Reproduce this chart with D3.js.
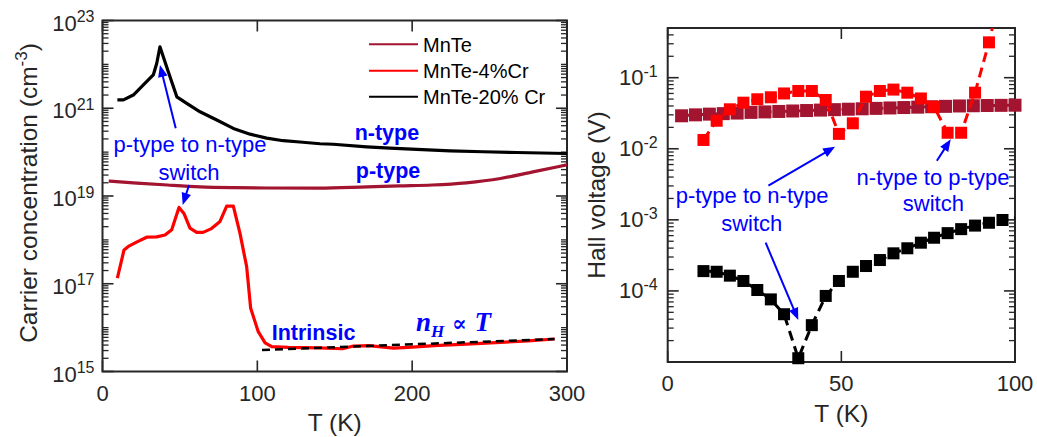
<!DOCTYPE html>
<html><head><meta charset="utf-8">
<script src="https://cdn.jsdelivr.net/npm/d3@7"></script>
<style>html,body{margin:0;padding:0;background:#fff;} svg{display:block;}</style>
</head><body>
<svg id="chart" width="1037" height="437"></svg>
<script>
// ---------- DATA ----------
const seriesNames = ["MnTe", "MnTe-4%Cr", "MnTe-20% Cr"];
const seriesColors = ["#a2142f", "#ff0000", "#000000"];

// Left panel: carrier concentration (cm^-3) vs T (K)
const carrierT_MnTe = [4, 20, 42, 63, 85, 106, 140, 171, 192, 213, 235, 257, 278, 300];
const carrierN_MnTe = [2.19e19, 2.0e19, 1.78e19, 1.62e19, 1.55e19, 1.52e19, 1.51e19, 1.62e19, 1.70e19, 1.78e19, 2.0e19, 2.51e19, 3.55e19, 5.13e19];

const carrierT_Cr4 = [9.6, 13.9, 16.7, 22, 28.5, 35, 40.4, 44.7, 49.4, 52.6, 56.5, 60.8, 65, 70, 75.9, 80.2, 84.5, 88.8, 93.1, 95.7, 100.6, 105, 109.3, 120, 140, 155, 162, 172, 188, 200, 214, 235, 257, 275, 292];
const carrierN_Cr4 = [1.35e17, 5.9e17, 7.1e17, 8.9e17, 1.15e18, 1.17e18, 1.29e18, 1.7e18, 5.5e18, 4.0e18, 1.86e18, 1.48e18, 1.48e18, 1.78e18, 2.63e18, 5.9e18, 5.9e18, 1.41e18, 2.45e17, 2.75e16, 8.1e15, 4.5e15, 3.7e15, 3.55e15, 3.47e15, 3.3e15, 3.8e15, 3.9e15, 3.4e15, 3.6e15, 3.9e15, 4.2e15, 4.6e15, 5.0e15, 5.5e15];

const carrierT_Cr20 = [9.6, 13.5, 19.9, 26.4, 32.8, 35, 37.1, 42.5, 48, 54.4, 63, 73.8, 84.5, 95.3, 106, 116.8, 127.5, 140.5, 149, 170.6, 185.7, 203, 224.5, 246, 267.5, 300];
const carrierN_Cr20 = [1.55e21, 1.55e21, 2.0e21, 3.39e21, 5.75e21, 1.05e22, 2.51e22, 6.76e21, 1.82e21, 1.29e21, 8.3e20, 5.4e20, 3.47e20, 2.57e20, 2.09e20, 1.82e20, 1.70e20, 1.55e20, 1.51e20, 1.32e20, 1.23e20, 1.15e20, 1.07e20, 1.02e20, 9.8e19, 9.3e19];

const fitT = [103, 292];
const fitN = [3.1e15, 5.5e15];

const leftXTicks = [0, 100, 200, 300];
const leftYExponents = [15, 17, 19, 21, 23];

// Right panel: Hall voltage (V) vs T (K)
const hallT_MnTe = [4, 8, 12, 16, 20, 24, 28, 32, 36, 40, 44, 48, 52, 56, 60, 64, 68, 72, 76, 80, 84, 88, 92, 96, 100];
const hallV_MnTe = [0.0291, 0.0300, 0.0307, 0.0312, 0.0318, 0.0325, 0.0330, 0.0335, 0.0340, 0.0345, 0.0350, 0.0355, 0.0360, 0.0365, 0.0370, 0.0375, 0.0380, 0.0385, 0.0390, 0.0395, 0.0400, 0.0403, 0.0406, 0.0408, 0.0410];

const hallT_Cr4 = [10.3, 14.1, 17.9, 21.8, 25.8, 29.7, 33.5, 37.6, 41.5, 45.5, 49.3, 53.3, 57.1, 61.1, 65, 69, 72.9, 76.7, 80.6, 84.5, 88.5, 92.5, 96.4];
const hallV_Cr4 = [0.0133, 0.0248, 0.0359, 0.0445, 0.0497, 0.053, 0.060, 0.065, 0.065, 0.0485, 0.0162, 0.0228, 0.054, 0.065, 0.068, 0.0615, 0.051, 0.039, 0.0168, 0.0168, 0.0615, 0.314, 2.0];

const hallT_Cr20 = [10.3, 14.1, 17.9, 21.8, 25.8, 29.7, 33.5, 37.6, 41.5, 45.5, 49.3, 53.3, 57.1, 61.1, 65, 69, 72.9, 76.7, 80.6, 84.5, 88.5, 92.5, 96.4, 100.4];
const hallV_Cr20 = [1.9e-4, 1.86e-4, 1.64e-4, 1.38e-4, 1.03e-4, 7.6e-5, 4.7e-5, 1.13e-5, 3.3e-5, 8.5e-5, 1.38e-4, 1.86e-4, 2.24e-4, 2.72e-4, 3.38e-4, 3.98e-4, 4.77e-4, 5.6e-4, 6.5e-4, 7.4e-4, 8.3e-4, 9.1e-4, 9.95e-4, 1.07e-3];

const rightXTicks = [0, 50, 100];
const rightYExponents = [-4, -3, -2, -1];

// ---------- DRAWING ----------
const SANS = "'Liberation Sans', Arial, sans-serif";
const AX = "#262626";
const BLUE = "#0000ff";
const svg = d3.select("#chart");
svg.append("rect").attr("width", 1037).attr("height", 437).attr("fill", "#fff");

const xL = d3.scaleLinear().domain([0, 300]).range([102.5, 567]);
const yL = d3.scaleLog().domain([1e15, 1e23]).range([371.5, 20.5]);
const xR = d3.scaleLinear().domain([0, 100]).range([667.7, 1015]);
const yR = d3.scaleLog().domain([1e-5, 0.5]).range([362, 28]);

const defs = svg.append("defs");
function clip(id, x, y) {
  const [x0, x1] = x.range(); const [y0, y1] = y.range();
  defs.append("clipPath").attr("id", id).append("rect")
    .attr("x", x0).attr("y", y1).attr("width", x1 - x0).attr("height", y0 - y1);
}
clip("clipL", xL, yL); clip("clipR", xR, yR);

function frameAndTicks(x, y, majorExps, xTicks, labelGap, labelDy) {
  const g = svg.append("g");
  const [x0, x1] = x.range(); const [y0, y1] = y.range();
  const [d0, d1] = y.domain();
  const major = majorExps.map(e => Math.pow(10, e));
  const minor = [];
  for (let e = Math.floor(Math.log10(d0)); e <= Math.ceil(Math.log10(d1)); e++) {
    for (let m = 1; m <= 9; m++) {
      const v = m * Math.pow(10, e);
      if (v < d0 * 0.9999 || v > d1 * 1.0001) continue;
      if (m === 1 && majorExps.includes(e)) continue;
      minor.push(v);
    }
  }
  minor.forEach(v => {
    const yy = y(v);
    g.append("line").attr("x1", x0).attr("x2", x0 + 6).attr("y1", yy).attr("y2", yy).attr("stroke", AX).attr("stroke-width", 1.3);
    g.append("line").attr("x1", x1).attr("x2", x1 - 6).attr("y1", yy).attr("y2", yy).attr("stroke", AX).attr("stroke-width", 1.3);
  });
  major.forEach(v => {
    const yy = y(v);
    g.append("line").attr("x1", x0).attr("x2", x0 + 11).attr("y1", yy).attr("y2", yy).attr("stroke", AX).attr("stroke-width", 1.6);
    g.append("line").attr("x1", x1).attr("x2", x1 - 11).attr("y1", yy).attr("y2", yy).attr("stroke", AX).attr("stroke-width", 1.6);
  });
  xTicks.forEach(t => {
    const xx = x(t);
    g.append("line").attr("x1", xx).attr("x2", xx).attr("y1", y0).attr("y2", y0 - 11).attr("stroke", AX).attr("stroke-width", 1.6);
    g.append("line").attr("x1", xx).attr("x2", xx).attr("y1", y1).attr("y2", y1 + 11).attr("stroke", AX).attr("stroke-width", 1.6);
    g.append("text").attr("x", xx).attr("y", y0 + 29).attr("text-anchor", "middle")
      .attr("font-family", SANS).attr("font-size", 22).attr("fill", AX).text(t);
  });
  g.append("rect").attr("x", x0).attr("y", y1).attr("width", x1 - x0).attr("height", y0 - y1)
    .attr("fill", "none").attr("stroke", AX).attr("stroke-width", 2);
  majorExps.forEach(e => {
    const t = g.append("text").attr("x", x0 - labelGap).attr("y", y(Math.pow(10, e)) + labelDy)
      .attr("text-anchor", "end").attr("font-family", SANS).attr("fill", AX);
    t.append("tspan").attr("font-size", 22).text("10");
    t.append("tspan").attr("font-size", 16).attr("dy", -8.5).text(String(e));
  });
}

// ---- left panel ----
frameAndTicks(xL, yL, leftYExponents, leftXTicks, 8, 10);
const lineL = d3.line().x(d => xL(d[0])).y(d => yL(d[1]));
const gL = svg.append("g").attr("clip-path", "url(#clipL)");
const zip = (a, b) => a.map((v, i) => [v, b[i]]);
gL.append("path").datum(zip(carrierT_Cr4, carrierN_Cr4)).attr("d", lineL)
  .attr("fill", "none").attr("stroke", seriesColors[1]).attr("stroke-width", 3.2).attr("stroke-linejoin", "round");
gL.append("path").datum(zip(fitT, fitN)).attr("d", lineL)
  .attr("fill", "none").attr("stroke", "#000").attr("stroke-width", 2.5).attr("stroke-dasharray", "8,5");
gL.append("path").datum(zip(carrierT_Cr20, carrierN_Cr20)).attr("d", lineL)
  .attr("fill", "none").attr("stroke", seriesColors[2]).attr("stroke-width", 3.2).attr("stroke-linejoin", "round");
gL.append("path").datum(zip(carrierT_MnTe, carrierN_MnTe)).attr("d", d3.line().curve(d3.curveMonotoneX).x(d => xL(d[0])).y(d => yL(d[1])))
  .attr("fill", "none").attr("stroke", seriesColors[0]).attr("stroke-width", 3.2);

// legend
const legY = [44.3, 70.7, 96.7];
seriesNames.forEach((n, i) => {
  svg.append("line").attr("x1", 369).attr("x2", 418).attr("y1", legY[i]).attr("y2", legY[i])
    .attr("stroke", seriesColors[i]).attr("stroke-width", 2);
  svg.append("text").attr("x", 423).attr("y", legY[i] + 7.3).attr("font-family", SANS)
    .attr("font-size", 20).attr("fill", "#000").text(n);
});

// axis labels
svg.append("text").attr("x", xL(150)).attr("y", 431).attr("text-anchor", "middle")
  .attr("font-family", SANS).attr("font-size", 24.5).attr("fill", AX).text("T (K)");
{
  const t = svg.append("text").attr("transform", "translate(37,193) rotate(-90)").attr("text-anchor", "middle")
    .attr("font-family", SANS).attr("font-size", 24.5).attr("fill", AX);
  t.append("tspan").text("Carrier concentration (cm");
  t.append("tspan").attr("font-size", 17).attr("dy", -10).text("-3");
  t.append("tspan").attr("dy", 10).text(")");
}
svg.append("text").attr("x", xR(50)).attr("y", 421.7).attr("text-anchor", "middle")
  .attr("font-family", SANS).attr("font-size", 24.5).attr("fill", AX).text("T (K)");
svg.append("text").attr("transform", "translate(605,195) rotate(-90)").attr("text-anchor", "middle")
  .attr("font-family", SANS).attr("font-size", 24.5).attr("fill", AX).text("Hall voltage (V)");

// annotations helper
function arrow(x1, y1, x2, y2) {
  const dx = x2 - x1, dy = y2 - y1, L = Math.hypot(dx, dy);
  const ux = dx / L, uy = dy / L, hl = 12, hw = 4.8;
  svg.append("line").attr("x1", x1).attr("y1", y1).attr("x2", x2 - ux * hl * 0.8).attr("y2", y2 - uy * hl * 0.8)
    .attr("stroke", BLUE).attr("stroke-width", 2);
  const bx = x2 - ux * hl, by = y2 - uy * hl;
  svg.append("polygon").attr("points", [[x2, y2], [bx - uy * hw, by + ux * hw], [bx + uy * hw, by - ux * hw]].map(p => p.join(",")).join(" "))
    .attr("fill", BLUE);
}
function label(x, y, txt, opts = {}) {
  return svg.append("text").attr("x", x).attr("y", y).attr("text-anchor", opts.anchor || "middle")
    .attr("font-family", SANS).attr("font-size", opts.size || 22).attr("font-weight", opts.bold ? "bold" : "normal")
    .attr("fill", BLUE).text(txt);
}
// left annotations (positioned in data units)
label(xL(183.7), yL(Math.pow(10, 20.276)), "n-type", { bold: true, size: 21.5 });
label(xL(184.4), yL(Math.pow(10, 19.41)), "p-type", { bold: true, size: 21.5 });
label(xL(56.5), yL(Math.pow(10, 20.0)), "p-type to n-type");
label(xL(55.9), yL(Math.pow(10, 19.36)), "switch");
label(xL(109.3), yL(Math.pow(10, 15.72)), "Intrinsic", { bold: true, size: 21.5, anchor: "start" });
{
  const t = svg.append("text").attr("x", xL(202.5)).attr("y", yL(Math.pow(10, 15.92)))
    .attr("font-family", "'Liberation Serif', 'DejaVu Serif', serif").attr("font-weight", "bold")
    .attr("font-size", 27).attr("fill", BLUE);
  t.append("tspan").attr("font-style", "italic").text("n");
  t.append("tspan").attr("font-style", "italic").attr("font-size", 17).attr("dy", 6).text("H");
  t.append("tspan").attr("dy", -6).attr("font-family", "'DejaVu Serif', serif").attr("font-size", 22).text(" \u221D ");
  t.append("tspan").attr("font-style", "italic").text("T");
}
arrow(xL(47.3), yL(Math.pow(10, 20.543)), xL(37.1), yL(Math.pow(10, 21.986)));
arrow(xL(55.9), yL(Math.pow(10, 19.25)), xL(51.8), yL(Math.pow(10, 18.795)));

// ---- right panel ----
frameAndTicks(xR, yR, rightYExponents, rightXTicks, 10, 7.5);
const lineR = d3.line().x(d => xR(d[0])).y(d => yR(d[1]));
const gR = svg.append("g");
function hallSeries(T, V, color, size) {
  const data = zip(T, V);
  gR.append("path").datum(data).attr("d", lineR).attr("clip-path", "url(#clipR)")
    .attr("fill", "none").attr("stroke", color).attr("stroke-width", 3).attr("stroke-dasharray", "10,6");
  gR.selectAll(null).data(data.filter(d => d[0] <= 100 && d[1] <= 0.5)).enter().append("rect")
    .attr("x", d => xR(d[0]) - size / 2).attr("y", d => yR(d[1]) - size / 2)
    .attr("width", size).attr("height", size).attr("fill", color);
}
hallSeries(hallT_MnTe, hallV_MnTe, seriesColors[0], 13);
hallSeries(hallT_Cr4, hallV_Cr4, seriesColors[1], 12);
hallSeries(hallT_Cr20, hallV_Cr20, seriesColors[2], 12);

label(xR(24.3), yR(Math.pow(10, -2.767)), "p-type to n-type");
label(xR(24.2), yR(Math.pow(10, -3.153)), "switch");
label(xR(76.4), yR(Math.pow(10, -2.51)), "n-type to p-type");
label(xR(76.5), yR(Math.pow(10, -2.876)), "switch");
arrow(xR(29.0), yR(Math.pow(10, -2.52)), xR(48.2), yR(Math.pow(10, -1.971)));
arrow(xR(28.2), yR(Math.pow(10, -3.322)), xR(37.6), yR(Math.pow(10, -4.409)));
arrow(xR(77.5), yR(Math.pow(10, -2.168)), xR(81.5), yR(Math.pow(10, -1.867)));
</script>
</body></html>
